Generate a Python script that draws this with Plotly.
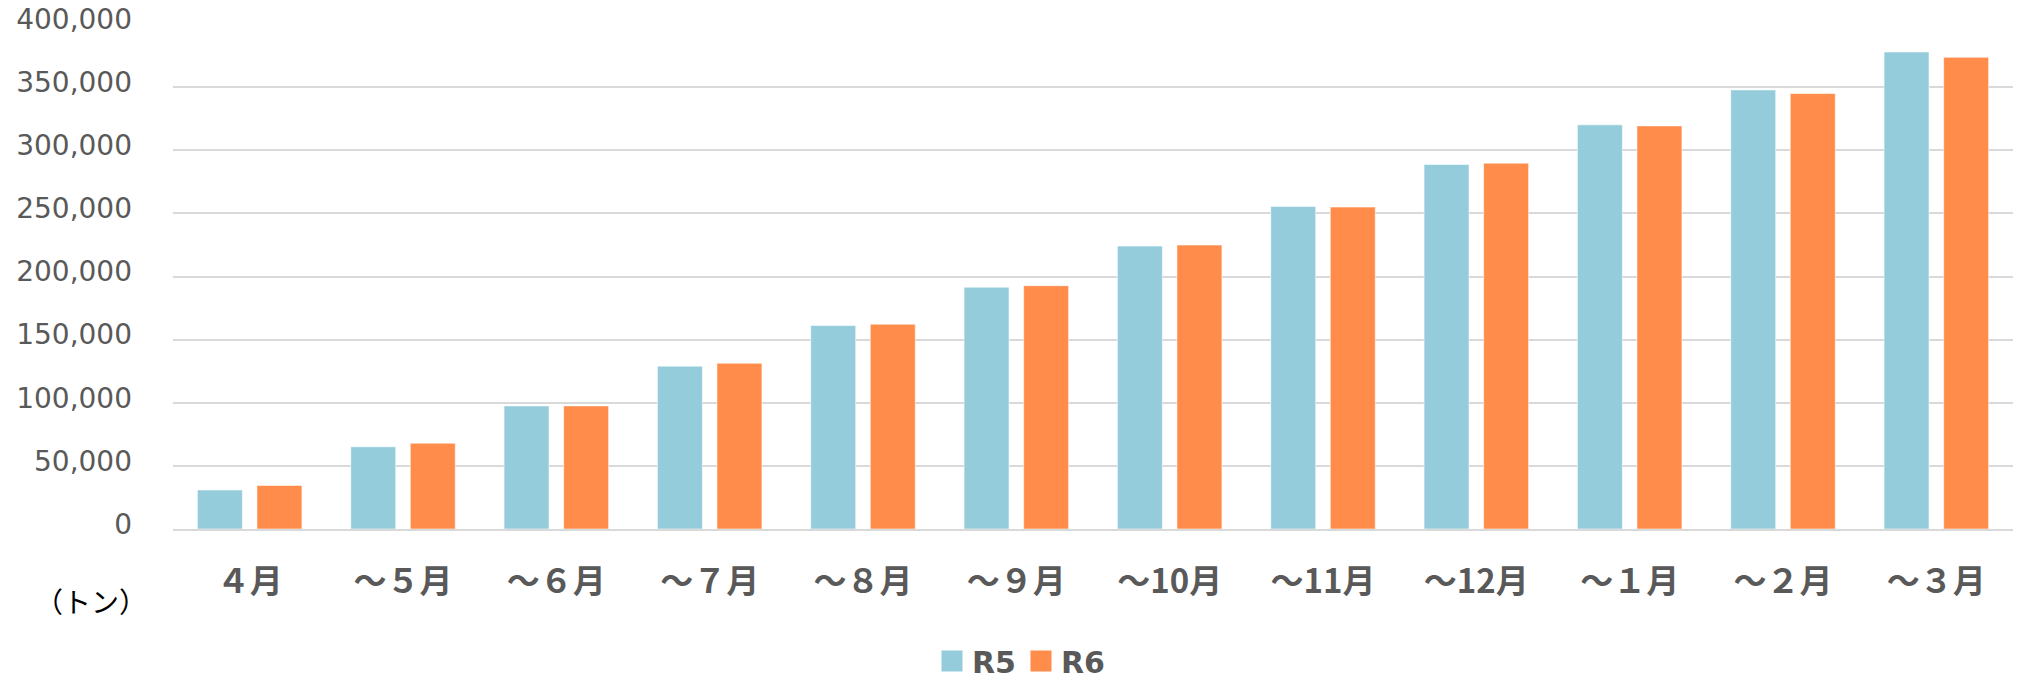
import plotly.graph_objects as go

categories = ["４月", "～５月", "～６月", "～７月", "～８月", "～９月",
              "～10月", "～11月", "～12月", "～１月", "～２月", "～３月"]
r5_values = [30900, 65100, 97500, 129000, 161100, 191500,
             224100, 255500, 288700, 320100, 347800, 377800]
r6_values = [34500, 68000, 97500, 131300, 162200, 192700,
             224900, 255000, 289800, 319300, 344900, 373600]
series_names = ["R5", "R6"]
y_ticks = [0, 50000, 100000, 150000, 200000, 250000, 300000, 350000, 400000]
unit_label = "（トン）"

W, H = 2022, 680
ML, MR, MT, MB = 172.6, 8.6, 23.7, 150.7
colors = ["#94CCDC", "#FF8C4B"]
gray = "#595959"

fig = go.Figure()
for name, vals, col in zip(series_names, [r5_values, r6_values], colors):
    fig.add_trace(go.Bar(
        x=categories, y=vals, name=name,
        marker=dict(color=col, line=dict(color="rgba(255,255,255,0.55)", width=1)),
        showlegend=False,
    ))
    # legend swatch
    fig.add_trace(go.Scatter(
        x=[None], y=[None], mode="markers", name=name,
        marker=dict(symbol="square", size=16, color=col,
                    line=dict(color=col, width=5)),
        showlegend=True,
    ))

fig.update_layout(
    width=W, height=H,
    margin=dict(l=ML, r=MR, t=MT, b=MB, autoexpand=False),
    paper_bgcolor="white", plot_bgcolor="white",
    barmode="group", bargap=0.223, bargroupgap=0.245,
    showlegend=True,
    legend=dict(
        orientation="h", xref="container", yref="container",
        x=1021 / W, xanchor="center",
        y=(H - 661) / H, yanchor="middle",
        font=dict(family="DejaVu Sans", size=30, color=gray, weight="bold"),
        itemsizing="trace",
    ),
    xaxis=dict(
        type="category", showgrid=False, showline=True,
        linecolor="#D9D9D9", linewidth=2,
        tickfont=dict(family="Noto Sans CJK JP", size=33, color=gray, weight="bold"),
        ticks="", ticklabelstandoff=22,
    ),
    yaxis=dict(
        range=[0, 400000], tickvals=y_ticks, tickformat=",d",
        showgrid=True, gridcolor="#D9D9D9", gridwidth=2,
        zeroline=False, showline=False, ticks="",
        tickfont=dict(family="DejaVu Sans", size=28, color=gray),
        ticklabelstandoff=40, ticklabelshift=-5, ticklabeloverflow="allow",
    ),
    annotations=[dict(
        text=unit_label, xref="paper", yref="paper",
        x=(91 - ML) / (W - ML - MR), y=(H - 601 - MB) / (H - MT - MB),
        xanchor="center", yanchor="middle", showarrow=False,
        font=dict(family="Noto Sans CJK JP", size=28, color="#000000"),
    )],
)

# remove the default 8px page margin so the chart fills the 2022x680 window exactly
fig.write_html("out.html", config={"displayModeBar": False},
               post_script="document.body.style.margin='0px';")
